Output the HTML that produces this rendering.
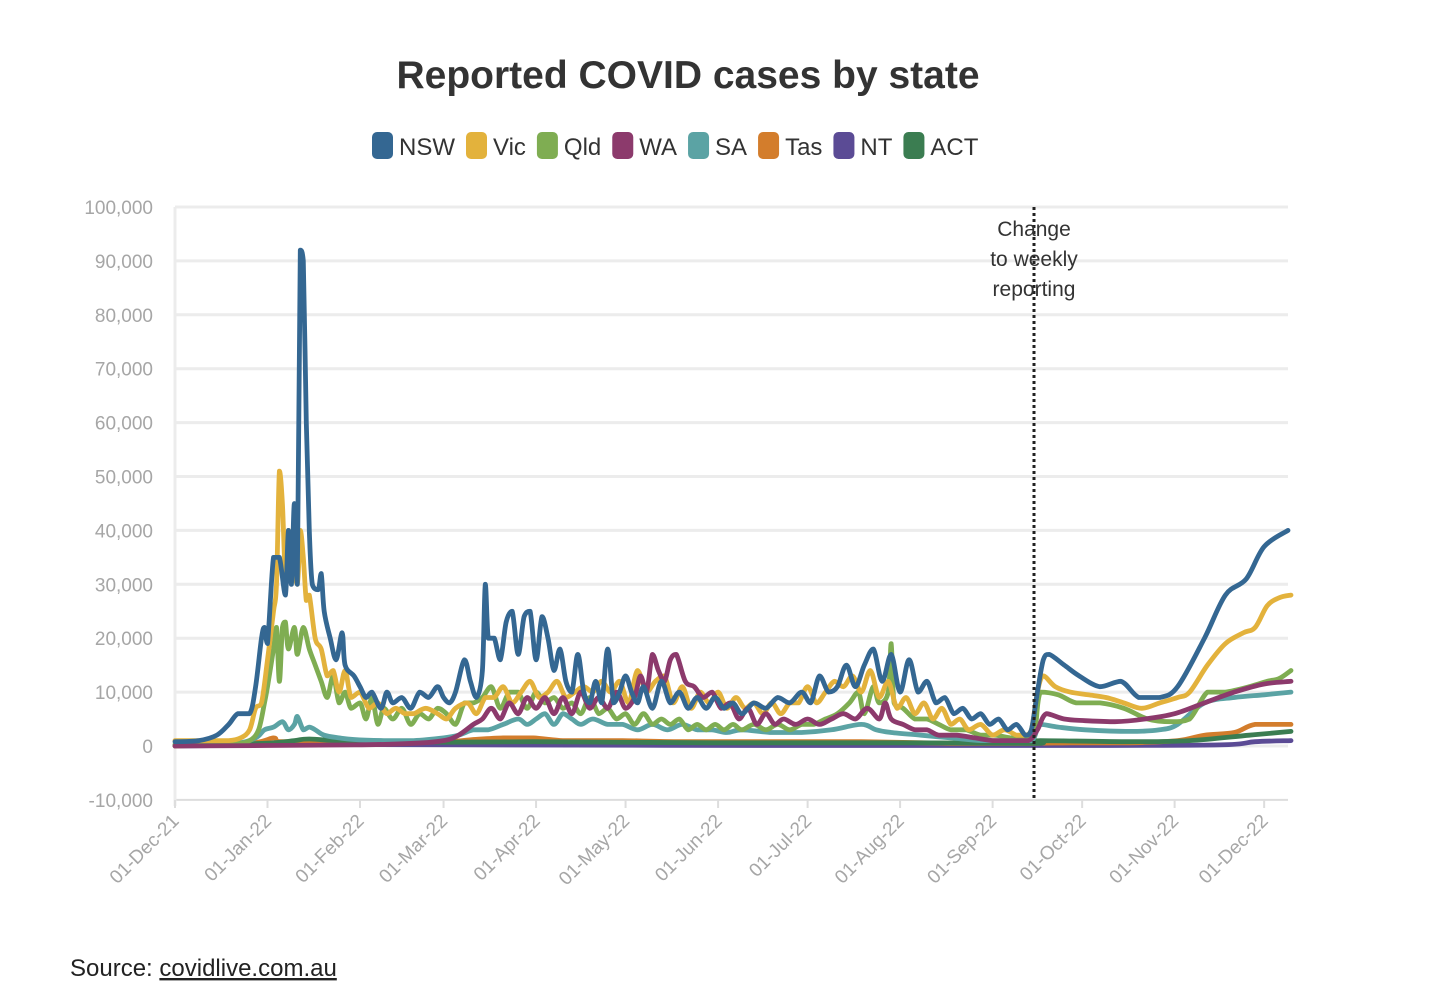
<!DOCTYPE html>
<html><head><meta charset="utf-8"><style>
body{margin:0;background:#fff;font-family:"Liberation Sans",sans-serif;}
#wrap{position:relative;width:1450px;height:1002px;overflow:hidden}
</style></head><body>
<div id="wrap">
<svg id="chart" width="1450" height="1002">
<text x="688" y="88" text-anchor="middle" font-size="39" font-weight="bold" fill="#333">Reported COVID cases by state</text>
<g id="legend"></g>
<g id="grid"></g>
<g id="series"></g>
<line x1="1034" y1="207" x2="1034" y2="800" stroke="#222" stroke-width="3" stroke-dasharray="3,3"/>
<g font-size="21" fill="#333" text-anchor="middle">
<text x="1034" y="236">Change</text><text x="1034" y="266">to weekly</text><text x="1034" y="296">reporting</text></g>
<text x="70" y="976" font-size="24" fill="#222">Source: <tspan text-decoration="underline">covidlive.com.au</tspan></text>
</svg>
</div>
<script>
const yTicks=[-10000,0,10000,20000,30000,40000,50000,60000,70000,80000,90000,100000];
const xTickLabels=["01-Dec-21","01-Jan-22","01-Feb-22","01-Mar-22","01-Apr-22","01-May-22","01-Jun-22","01-Jul-22","01-Aug-22","01-Sep-22","01-Oct-22","01-Nov-22","01-Dec-22"];
const xTickDays=[0,31,62,90,121,151,182,212,243,274,304,335,365];
const seriesNames=["NSW","Vic","Qld","WA","SA","Tas","NT","ACT"];
const seriesColors=["#346792","#e3b23c","#7fad52","#8c3a6c","#5ba3a4","#d37d2c","#5b4b95","#3b7d51"];
const nswDays=[0,8,14,18,21,25,27,29,30,31,33,35,37,38,39,40,41,42,43,44,45,46,48,49,50,52,54,56,57,60,62,64,66,69,71,73,76,79,82,85,88,90,92,94,97,99,101,103,104,105,107,109,111,113,115,117,119,121,123,125,127,129,131,133,135,137,139,141,143,145,147,149,151,153,155,157,160,163,166,169,172,175,178,181,184,187,190,194,198,202,206,210,213,216,219,222,225,228,231,234,237,240,243,246,249,252,255,258,261,264,267,270,273,276,279,282,285,287,289,291,293,298,303,310,317,323,330,336,345,352,359,365,373];
const nswVals=[0.8,1,2,4,6,6,11,20,22,19,35,35,28,40,30,45,30,92,90,60,40,30,29,32,25,20,16,21,15,13,11,9,10,7,10,8,9,7,10,9,11,9,8,10,16,12,9,14,30,20,20,16,23,25,17,24,25,16,24,20,14,18,12,10,17,10,8,12,8,18,8,10,13,10,8,11,7,12,8,10,7,9,7,9,7,8,6,8,7,9,8,10,8,13,10,11,15,11,15,18,12,17,10,16,10,12,8,9,6,7,5,6,4,5,3,4,2,3,10,16,17,15,13,11,12,9,9,11,20,28,31,37,40];
const vicDays=[0,10,18,22,25,27,29,31,33,34,35,36,37,38,39,41,42,43,44,45,47,49,51,53,55,57,59,62,65,68,71,74,77,80,84,88,91,94,98,101,104,107,110,113,116,119,122,125,128,131,134,137,140,143,146,149,152,155,158,161,164,167,170,173,176,179,182,185,188,191,194,197,200,203,206,209,212,215,218,221,224,227,230,233,236,239,242,245,248,251,254,257,260,263,266,270,274,278,282,285,287,289,291,295,300,306,312,318,324,330,336,340,346,352,358,362,366,370,374];
const vicVals=[1,1,1,1.5,3,7,8,16,25,30,51,45,32,40,36,30,40,35,27,28,20,18,13,14,10,14,9,10,7,8,6,7,6,6,7,6,5,7,8,6,9,9,11,8,10,12,9,10,12,9,10,11,10,12,10,12,8,14,10,12,13,8,11,7,10,8,10,7,9,7,8,6,8,6,8,8,11,8,10,12,11,13,10,14,9,12,7,9,6,8,5,7,4,5,3,4,2,3,2,2,3,10,13,11,10,9.5,9,8,7,8,9,10,15,19,21,22,26,27.5,28];
const qldDays=[0,20,25,28,30,31,33,34,35,36,37,38,40,41,43,45,47,49,51,53,55,57,59,62,64,66,68,70,73,76,79,82,85,88,91,94,97,100,103,106,109,112,115,118,121,124,127,130,133,136,139,142,145,148,151,154,157,160,163,166,169,172,175,178,181,184,187,190,194,198,202,206,210,214,218,222,226,229,231,234,236,239,240,241,244,248,252,256,260,265,270,275,280,285,288,290,296,302,310,318,326,334,340,346,352,360,366,370,374];
const qldVals=[0.3,0.5,1,3,8,11,18,22,12,22,23,18,22,17,22,18,15,12,9,13,8,10,7,8,5,9,4,7,5,7,4,6,5,7,6,4,8,8,9,11,7,10,10,7,10,8,9,7,8,6,9,6,7,5,6,4,6,4,5,4,5,3,4,3,4,3,4,3,4,3,4,3,4,4,5,6,8,10,6,11,8,10,19,8,7,5,5,4,3,3,2,2,1.5,1.5,2,10,9.5,8,8,7,5,4.5,5,10,10,11,12,12.5,14];
const waDays=[0,60,80,90,95,100,103,106,109,112,115,118,121,124,127,130,133,136,139,142,145,148,151,154,156,158,160,162,164,166,168,171,174,177,180,183,186,189,192,195,198,201,204,208,212,216,220,224,228,232,236,238,240,244,248,252,256,262,268,274,280,286,289,292,298,305,315,325,335,345,355,365,374];
const waVals=[0,0.2,0.5,1,2,4,5,7,5,8,6,9,7,9,6,9,6,10,7,9,7,10,7,9,13,10,17,14,12,16,17,12,11,9,10,7,8,5,7,4,6,4,5,4,5,4,5,6,5,7,5,8,5,4,3,3,2,2,1.5,1,1,1,3,6,5,4.7,4.5,5,6,8,10,11.5,12];
const saDays=[0,20,27,30,33,36,38,40,41,43,45,47,50,55,60,70,80,90,95,100,105,110,115,118,121,124,127,130,133,136,140,145,150,155,160,165,170,175,180,185,190,200,210,220,230,235,240,250,260,270,280,287,290,296,305,320,330,336,345,355,365,374];
const saVals=[0.2,0.5,1.5,3,3.5,4.5,3,4,5.5,3,3.5,3,2,1.5,1.2,1,1,1.5,2,3,3,4,5,4,5,6,4,6,5,4,5,4,4,3,4,3,4,3,3,2.5,3,2.5,2.5,3,4,3,2.5,2,1.5,1,1,1,4,3.5,3,2.7,3,4,8,9,9.5,10];
const tasDays=[0,25,33,35,45,60,90,100,110,120,130,140,150,170,200,230,260,288,300,320,336,345,355,362,374];
const tasVals=[0,0.5,1.5,0.8,0.8,0.5,0.8,1.2,1.5,1.5,1,1,1,0.8,0.8,0.8,0.5,0.5,0.6,0.6,1,2,2.5,4,4];
const ntDays=[0,30,40,60,100,200,300,350,362,374];
const ntVals=[0,0.2,0.5,0.3,0.2,0.1,0.1,0.2,0.8,1];
const actDays=[0,30,40,45,60,90,120,180,240,288,290,320,340,360,374];
const actVals=[0.1,0.5,1,1.3,0.8,0.7,0.8,0.6,0.6,0.5,1,0.8,1,2,2.7];

const NS="http://www.w3.org/2000/svg";
function xScale(d){return 175+d*2.984;}
function yScale(v){return 746-v*0.00539;}
function mk(tag,attrs,parent){const e=document.createElementNS(NS,tag);for(const k in attrs)e.setAttribute(k,attrs[k]);parent.appendChild(e);return e;}
const grid=document.getElementById('grid');
yTicks.forEach(t=>{
  const y=yScale(t);
  const l=mk('line',{x1:175,x2:1288,y1:y,y2:y,stroke:t===-10000?'#ddd':'#ececec','stroke-width':t===-10000?2:3},grid);
  
  
  const tx=mk('text',{x:153,y:y+7,'text-anchor':'end','font-size':19,fill:'#a6a6a6'},grid);
  tx.textContent=t.toLocaleString('en-US');
  
  
});
const ya=mk('line',{x1:175,x2:175,y1:207,y2:806,stroke:'#ececec','stroke-width':3},grid);


xTickDays.forEach((d,i)=>{
  const x=xScale(d);
  const tk=mk('line',{x1:x,x2:x,y1:800,y2:808,stroke:'#ddd','stroke-width':2},grid);
  
  
  const tx=mk('text',{x:x+5,y:822,'text-anchor':'end','font-size':19,fill:'#a6a6a6',transform:`rotate(-45 ${x+5} 822)`},grid);
  tx.textContent=xTickLabels[i];
  
  
});
const sd=[[nswDays,nswVals],[vicDays,vicVals],[qldDays,qldVals],[waDays,waVals],[saDays,saVals],[tasDays,tasVals],[ntDays,ntVals],[actDays,actVals]];
const sg=document.getElementById('series');
const order=[6,5,7,4,2,1,3,0];
function clampY(c,a,b){const lo=Math.min(a,b),hi=Math.max(a,b);return Math.max(lo,Math.min(hi,c));}
order.forEach(i=>{
  const [ds,vs]=sd[i];
  const pts=ds.map((d,j)=>[xScale(d),yScale(vs[j]*1000)]);
  let p='M'+pts[0][0].toFixed(1)+','+pts[0][1].toFixed(1);
  for(let j=1;j<pts.length;j++){
    const p0=pts[j-2]||pts[j-1],p1=pts[j-1],p2=pts[j],p3=pts[j+1]||p2;
    const c1=[p1[0]+(p2[0]-p0[0])/6,clampY(p1[1]+(p2[1]-p0[1])/6,p1[1],p2[1])];
    const c2=[p2[0]-(p3[0]-p1[0])/6,clampY(p2[1]-(p3[1]-p1[1])/6,p1[1],p2[1])];
    p+=`C${c1[0].toFixed(1)},${c1[1].toFixed(1)} ${c2[0].toFixed(1)},${c2[1].toFixed(1)} ${p2[0].toFixed(1)},${p2[1].toFixed(1)}`;
  }
  const path=mk('path',{d:p,fill:'none',stroke:seriesColors[i],'stroke-width':4.8,'stroke-linejoin':'round','stroke-linecap':'round'},sg);
  
  
});
const lg=document.getElementById('legend');
let lx=372;
seriesNames.forEach((n,i)=>{
  const g=mk('g',{},lg);
  
  
  mk('rect',{x:lx,y:132,width:21,height:27,rx:5,fill:seriesColors[i]},g);
  const t=mk('text',{x:lx+27,y:155,'font-size':24,fill:'#333'},g);
  t.textContent=n;
  lx+=27+t.getComputedTextLength()+11;
});
</script>
</body></html>
